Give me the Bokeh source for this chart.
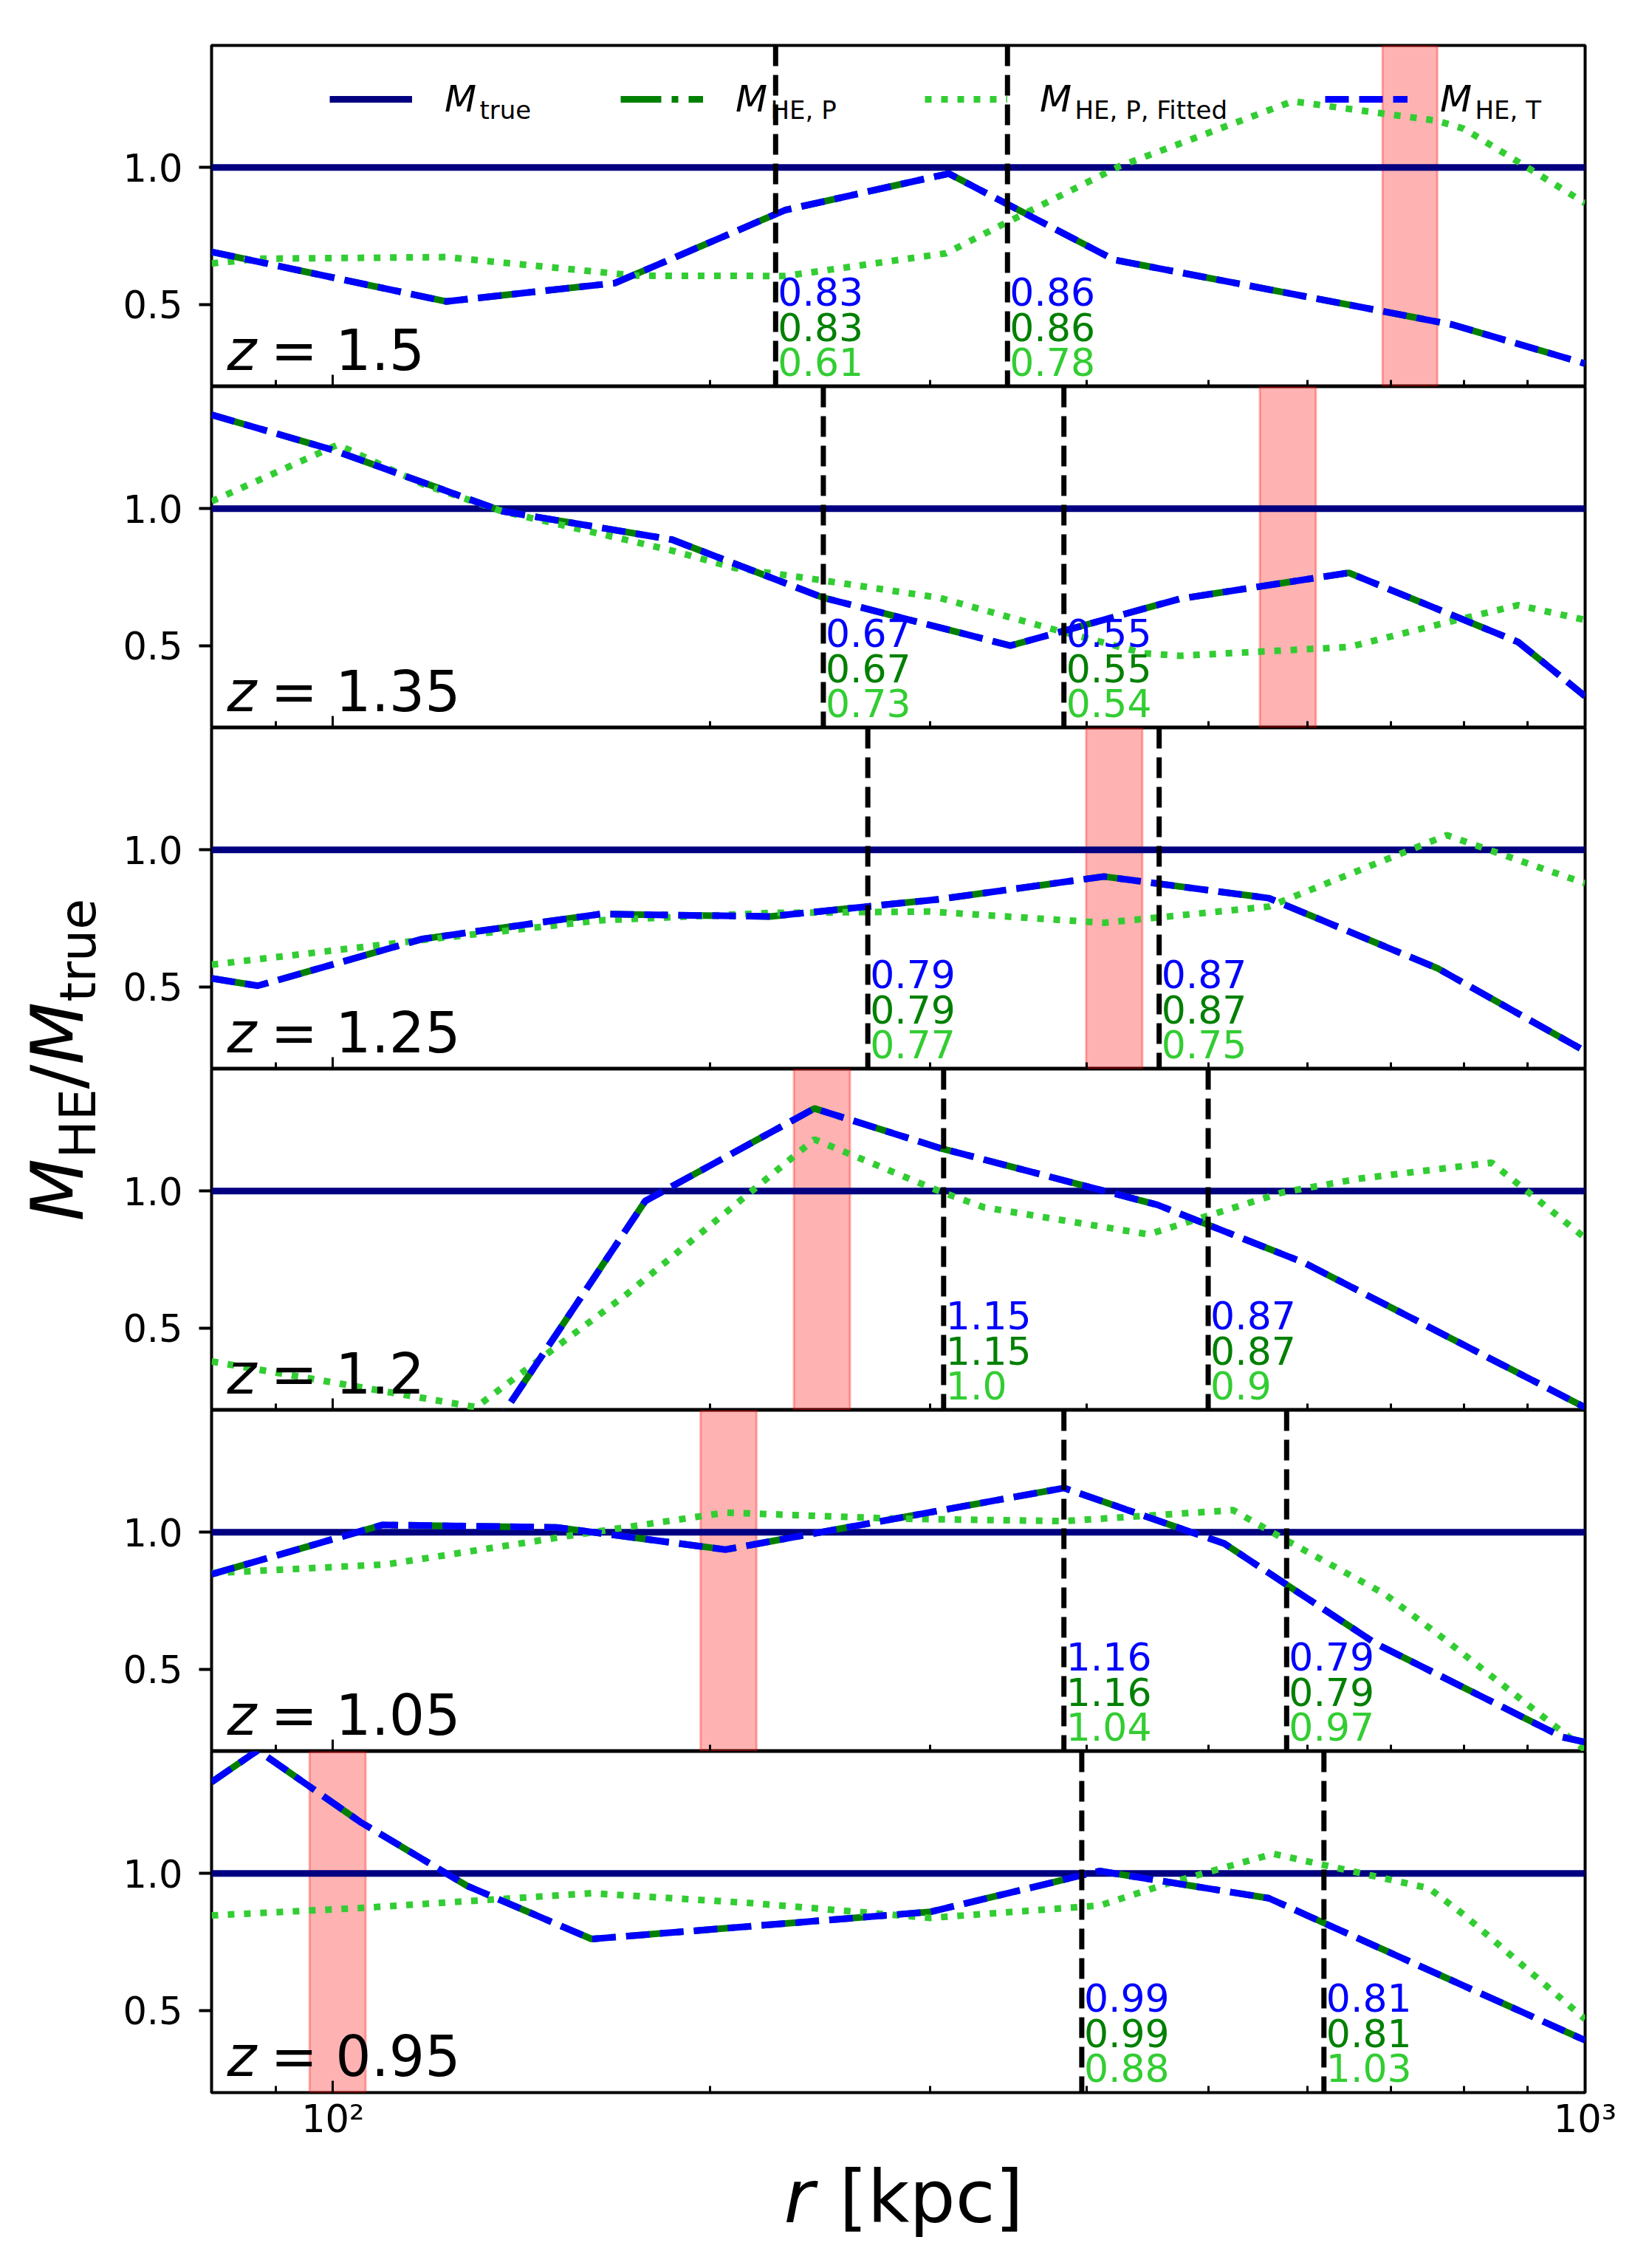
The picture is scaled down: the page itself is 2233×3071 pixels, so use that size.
import math
from bokeh.plotting import figure
from bokeh.models import (Range1d, FixedTicker, PrintfTickFormatter, Span,
                          BoxAnnotation, Legend, LegendItem)
from bokeh.layouts import column, row
from bokeh.core.properties import value
from bokeh.embed import file_html
from bokeh.resources import INLINE

# ---------------- data ----------------
R_MIN, R_MAX = 80, 1000
Y_MIN, Y_MAX = 0.2, 1.446

r_true = [80, 1000]
m_true = [1.0, 1.0]

# z = 1.5
r_he_z150 = [80, 123.1, 167.9, 229.8, 310.3, 420.6, 784.0, 1000]
mhe_t_z150 = [0.692, 0.511, 0.578, 0.845, 0.978, 0.663, 0.426, 0.284]
mhe_p_z150 = [0.692, 0.511, 0.578, 0.845, 0.978, 0.663, 0.426, 0.284]
r_fit_z150 = [80, 87.4, 123.1, 175.0, 229.8, 308.8, 344.0, 424.9, 584.0, 761.0, 800.0, 882.0, 1000]
mfit_z150 = [0.650, 0.667, 0.673, 0.605, 0.604, 0.687, 0.796, 1.005, 1.242, 1.171, 1.142, 1.024, 0.870]
rlines_z150 = [225.7, 345.7]
band_z150 = [689.0, 762.0]
lab_t_z150 = ["0.83", "0.86"]
lab_p_z150 = ["0.83", "0.86"]
lab_fit_z150 = ["0.61", "0.78"]

# z = 1.35
r_he_z135 = [80, 100.1, 136.6, 186.6, 246.4, 347.5, 474.5, 647.7, 884.3, 1000]
mhe_t_z135 = [1.343, 1.214, 0.991, 0.887, 0.675, 0.500, 0.671, 0.766, 0.513, 0.315]
mhe_p_z135 = [1.343, 1.214, 0.991, 0.887, 0.675, 0.500, 0.671, 0.766, 0.513, 0.315]
r_fit_z135 = [80, 100.9, 117.9, 136.6, 158.3, 186.6, 209.2, 246.4, 304.9, 377.3, 444.4, 474.5, 647.7, 775.5, 884.3, 1000]
mfit_z135 = [1.027, 1.234, 1.090, 0.990, 0.923, 0.847, 0.784, 0.738, 0.675, 0.558, 0.472, 0.463, 0.495, 0.585, 0.648, 0.594]
rlines_z135 = [246.4, 383.5]
band_z135 = [549.8, 609.5]
lab_t_z135 = ["0.67", "0.55"]
lab_p_z135 = ["0.67", "0.55"]
lab_fit_z135 = ["0.73", "0.54"]

# z = 1.25
r_he_z125 = [80, 87.1, 117.9, 163.6, 223.4, 304.9, 412.8, 558.9, 762.9, 1000]
mhe_t_z125 = [0.531, 0.504, 0.675, 0.766, 0.757, 0.820, 0.903, 0.824, 0.567, 0.265]
mhe_p_z125 = [0.531, 0.504, 0.675, 0.766, 0.757, 0.820, 0.903, 0.824, 0.567, 0.265]
r_fit_z125 = [80, 117.9, 163.6, 223.4, 299.9, 412.8, 558.9, 775.5, 1000]
mfit_z125 = [0.581, 0.671, 0.743, 0.770, 0.775, 0.734, 0.793, 1.054, 0.878]
rlines_z125 = [267.4, 456.9]
band_z125 = [399.5, 443.0]
lab_t_z125 = ["0.79", "0.87"]
lab_p_z125 = ["0.79", "0.87"]
lab_fit_z125 = ["0.77", "0.75"]

# z = 1.2
r_he_z120 = [80, 128.0, 177.6, 242.4, 304.9, 455.4, 596.9, 1000]
mhe_t_z120 = [-0.20, -0.01, 0.964, 1.302, 1.158, 0.950, 0.738, 0.210]
mhe_p_z120 = [-0.20, -0.01, 0.964, 1.302, 1.158, 0.950, 0.738, 0.210]
r_fit_z120 = [80, 130.1, 171.9, 242.4, 304.9, 331.0, 448.1, 572.8, 658.4, 841.9, 1000]
mfit_z120 = [0.378, 0.211, 0.626, 1.189, 1.000, 0.941, 0.842, 0.995, 1.045, 1.104, 0.829]
rlines_z120 = [307.4, 500.0]
band_z120 = [233.4, 258.8]
lab_t_z120 = ["1.15", "0.87"]
lab_p_z120 = ["1.15", "0.87"]
lab_fit_z120 = ["1.0", "0.9"]

# z = 1.05
r_he_z105 = [80, 109.5, 150.8, 205.8, 383.5, 515.0, 680.4, 959.6, 1000]
mhe_t_z105 = [0.847, 1.027, 1.018, 0.937, 1.162, 0.959, 0.594, 0.252, 0.234]
mhe_p_z105 = [0.847, 1.027, 1.018, 0.937, 1.162, 0.959, 0.594, 0.252, 0.234]
r_fit_z105 = [80, 110.4, 158.3, 205.8, 280.9, 383.5, 523.5, 577.6, 691.6, 775.5, 1000]
mfit_z105 = [0.851, 0.883, 0.995, 1.072, 1.050, 1.041, 1.081, 0.970, 0.775, 0.603, 0.206]
rlines_z105 = [383.5, 577.6]
band_z105 = [196.6, 217.9]
lab_t_z105 = ["1.16", "0.79"]
lab_p_z105 = ["1.16", "0.79"]
lab_fit_z105 = ["1.04", "0.97"]

# z = 0.95
r_he_z095 = [80, 87.1, 105.1, 128.0, 160.9, 299.9, 409.5, 558.9, 1000]
mhe_t_z095 = [1.334, 1.450, 1.189, 0.955, 0.761, 0.860, 1.009, 0.910, 0.391]
mhe_p_z095 = [1.334, 1.450, 1.189, 0.955, 0.761, 0.860, 1.009, 0.910, 0.391]
r_fit_z095 = [80, 105.1, 160.9, 216.1, 299.9, 409.5, 464.4, 563.5, 750.6, 801.3, 1000]
mfit_z095 = [0.847, 0.874, 0.928, 0.892, 0.838, 0.883, 0.964, 1.072, 0.946, 0.847, 0.468]
rlines_z095 = [396.3, 618.6]
band_z095 = [95.8, 106.2]
lab_t_z095 = ["0.99", "0.81"]
lab_p_z095 = ["0.99", "0.81"]
lab_fit_z095 = ["0.88", "1.03"]

redshift_labels = ["1.5", "1.35", "1.25", "1.2", "1.05", "0.95"]
x_major_ticks = [100, 1000]
x_minor_ticks = [90, 200, 300, 400, 500, 600, 700, 800, 900]
x_tick_labels = {100: "10\u00b2", 1000: "10\u00b3"}
y_ticks = [0.5, 1.0]

panels = [
    (r_he_z150, mhe_t_z150, mhe_p_z150, r_fit_z150, mfit_z150, rlines_z150, band_z150, lab_t_z150, lab_p_z150, lab_fit_z150),
    (r_he_z135, mhe_t_z135, mhe_p_z135, r_fit_z135, mfit_z135, rlines_z135, band_z135, lab_t_z135, lab_p_z135, lab_fit_z135),
    (r_he_z125, mhe_t_z125, mhe_p_z125, r_fit_z125, mfit_z125, rlines_z125, band_z125, lab_t_z125, lab_p_z125, lab_fit_z125),
    (r_he_z120, mhe_t_z120, mhe_p_z120, r_fit_z120, mfit_z120, rlines_z120, band_z120, lab_t_z120, lab_p_z120, lab_fit_z120),
    (r_he_z105, mhe_t_z105, mhe_p_z105, r_fit_z105, mfit_z105, rlines_z105, band_z105, lab_t_z105, lab_p_z105, lab_fit_z105),
    (r_he_z095, mhe_t_z095, mhe_p_z095, r_fit_z095, mfit_z095, rlines_z095, band_z095, lab_t_z095, lab_p_z095, lab_fit_z095),
]

# ---------------- style / layout ----------------
FONT = value("DejaVu Sans")
NAVY = "#000080"
GREEN = "#008000"
LIME = "#32cd32"
BLUE = "#0000ff"
FRAME_W, FRAME_H = 1860, 462
LEFT_W = 150
BORDER_L, BORDER_R = 136, 84
TOP_B, BOT_B = 61, 80
TOTAL_W = LEFT_W + BORDER_L + FRAME_W + BORDER_R
COL_H = TOP_B + 6 * FRAME_H + BOT_B
XLAB_H = 155
LW = 9
BASE_SHIFT = 0.4  # em correction for the alphabetic baseline of text glyphs

x_range = Range1d(R_MIN, R_MAX)
figs = []
for i, (r_he, m_t, m_p, r_fit, m_fit, rl, band, lt, lp, lf) in enumerate(panels):
    first, last = i == 0, i == len(panels) - 1
    p = figure(frame_width=FRAME_W, frame_height=FRAME_H, x_axis_type="log",
               x_range=x_range, y_range=Range1d(Y_MIN, Y_MAX),
               output_backend="svg", toolbar_location=None,
               min_border_left=BORDER_L, min_border_right=BORDER_R,
               min_border_top=TOP_B if first else 0,
               min_border_bottom=BOT_B if last else 0)
    p.grid.visible = False
    p.outline_line_color = "black"
    p.outline_line_width = 4
    p.background_fill_color = "white"
    p.border_fill_color = "white"

    # axes
    p.yaxis.ticker = FixedTicker(ticks=y_ticks)
    p.yaxis.formatter = PrintfTickFormatter(format="%.1f")
    p.yaxis.axis_line_color = None
    p.yaxis.major_tick_out = 17
    p.yaxis.major_tick_in = 0
    p.yaxis.major_tick_line_width = 4
    p.yaxis.major_tick_line_color = "black"
    p.yaxis.minor_tick_line_color = None
    p.yaxis.major_label_standoff = 22
    p.yaxis.major_label_text_font = "DejaVu Sans"
    p.yaxis.major_label_text_font_size = "51px"
    p.yaxis.major_label_text_color = "black"

    p.xaxis.ticker = FixedTicker(ticks=x_major_ticks, minor_ticks=x_minor_ticks)
    p.xaxis.axis_line_color = None
    p.xaxis.major_tick_in = 16
    p.xaxis.major_tick_out = 0
    p.xaxis.minor_tick_in = 9
    p.xaxis.minor_tick_out = 0
    p.xaxis.major_tick_line_width = 3
    p.xaxis.minor_tick_line_width = 3
    p.xaxis.major_tick_line_color = "black"
    p.xaxis.minor_tick_line_color = "black"
    p.xaxis.major_label_text_font = "DejaVu Sans"
    p.xaxis.major_label_text_font_size = "51px"
    p.xaxis.major_label_text_color = "black"
    if last:
        p.xaxis.major_label_overrides = x_tick_labels
        p.xaxis.major_label_standoff = 6
    else:
        p.xaxis.fixed_location = Y_MIN
        p.xaxis.major_label_text_alpha = 0
        p.xaxis.major_label_standoff = 0

    # shaded band
    p.add_layout(BoxAnnotation(left=band[0], right=band[1], fill_color="#ff0000",
                               fill_alpha=0.3, line_color="#ff0000", line_alpha=0.3,
                               line_width=3, level="underlay"))

    r_true_ln = p.line(r_true, m_true, line_color=NAVY, line_width=LW)
    r_p_ln = p.line(r_he, m_p, line_color=GREEN, line_width=LW, line_dash="55 14 9 14")
    r_fit_ln = p.line(r_fit, m_fit, line_color=LIME, line_width=LW, line_dash="9 13")
    r_t_ln = p.line(r_he, m_t, line_color=BLUE, line_width=LW, line_dash="32 14")

    for loc in rl:
        p.add_layout(Span(location=loc, dimension="height", line_color="black",
                          line_width=7, line_dash="28 12"))

    ybase = [Y_MIN] * len(rl)
    sh = BASE_SHIFT * 52
    for texts, col, dy in ((lt, BLUE, -108), (lp, GREEN, -60), (lf, LIME, -13)):
        p.text(x=rl, y=ybase, text=texts, x_offset=3, y_offset=dy - sh,
               text_color=col, text_font=FONT, text_font_size="52px",
               text_align="left", text_baseline="alphabetic")

    sh = BASE_SHIFT * 76
    p.text(x=[R_MIN], y=[Y_MIN], text=["z"], x_offset=21, y_offset=-19 - sh,
           text_color="black", text_font=FONT, text_font_style="italic",
           text_font_size="76px", text_align="left", text_baseline="alphabetic")
    p.text(x=[R_MIN], y=[Y_MIN], text=["= " + redshift_labels[i]], x_offset=80, y_offset=-19 - sh,
           text_color="black", text_font=FONT, text_font_size="76px",
           text_align="left", text_baseline="alphabetic")

    if first:
        leg_x = [160, 554, 966, 1508]
        subs = ["true", "HE, P", "HE, P, Fitted", "HE, T"]
        rends = [r_true_ln, r_p_ln, r_fit_ln, r_t_ln]
        for lx, sub, rend in zip(leg_x, subs, rends):
            leg = Legend(items=[LegendItem(label=value("M"), renderers=[rend])],
                         location=(lx, FRAME_H - 103), orientation="horizontal",
                         glyph_width=112, glyph_height=60, label_height=60,
                         label_standoff=44, padding=0, margin=0, spacing=0,
                         border_line_color=None, background_fill_alpha=0,
                         label_text_font="DejaVu Sans", label_text_font_style="italic",
                         label_text_font_size="50px", label_text_color="black",
                         label_text_baseline="middle")
            p.add_layout(leg)
            p.text(x=[R_MIN], y=[Y_MAX], text=[sub], x_offset=lx + 156 + 47,
                   y_offset=101 - BASE_SHIFT * 34,
                   text_color="black", text_font=FONT, text_font_size="34px",
                   text_align="left", text_baseline="alphabetic")
    figs.append(p)

# y label figure (text composed as M_HE / M_true)
ylab = figure(width=LEFT_W, height=COL_H, x_range=Range1d(0, LEFT_W), y_range=Range1d(COL_H, 0),
              x_axis_type=None, y_axis_type=None, output_backend="svg", toolbar_location=None,
              min_border=0, outline_line_color=None)
ylab.grid.visible = False
for txt, xb, ys, size, style in (("M", 117, 1653, 98, "italic"),
                                 ("HE", 132, 1568, 68, "normal"),
                                 ("/", 117, 1474, 98, "normal"),
                                 ("M", 117, 1441, 98, "italic"),
                                 ("true", 132, 1356, 68, "normal")):
    ylab.text(x=[xb - BASE_SHIFT * size], y=[ys], text=[txt], angle=math.pi / 2, text_color="black",
              text_font=FONT, text_font_size=f"{size}px", text_font_style=style,
              text_align="left", text_baseline="alphabetic")

# x label figure
xlab = figure(width=TOTAL_W, height=XLAB_H, x_range=Range1d(0, TOTAL_W), y_range=Range1d(XLAB_H, 0),
              x_axis_type=None, y_axis_type=None, output_backend="svg", toolbar_location=None,
              min_border=0, outline_line_color=None)
xlab.grid.visible = False
xlab.text(x=[1061], y=[101 - BASE_SHIFT * 100], text=["r"], text_color="black", text_font=FONT,
          text_font_size="100px", text_font_style="italic", text_align="left",
          text_baseline="alphabetic")
xlab.text(x=[1136], y=[101 - BASE_SHIFT * 98], text=["[kpc]"], text_color="black", text_font=FONT,
          text_font_size="98px", text_align="left", text_baseline="alphabetic")

layout = column(row(ylab, column(*figs, spacing=0), spacing=0), xlab, spacing=0)

with open("out.html", "w") as f:
    f.write(file_html(layout, INLINE))
